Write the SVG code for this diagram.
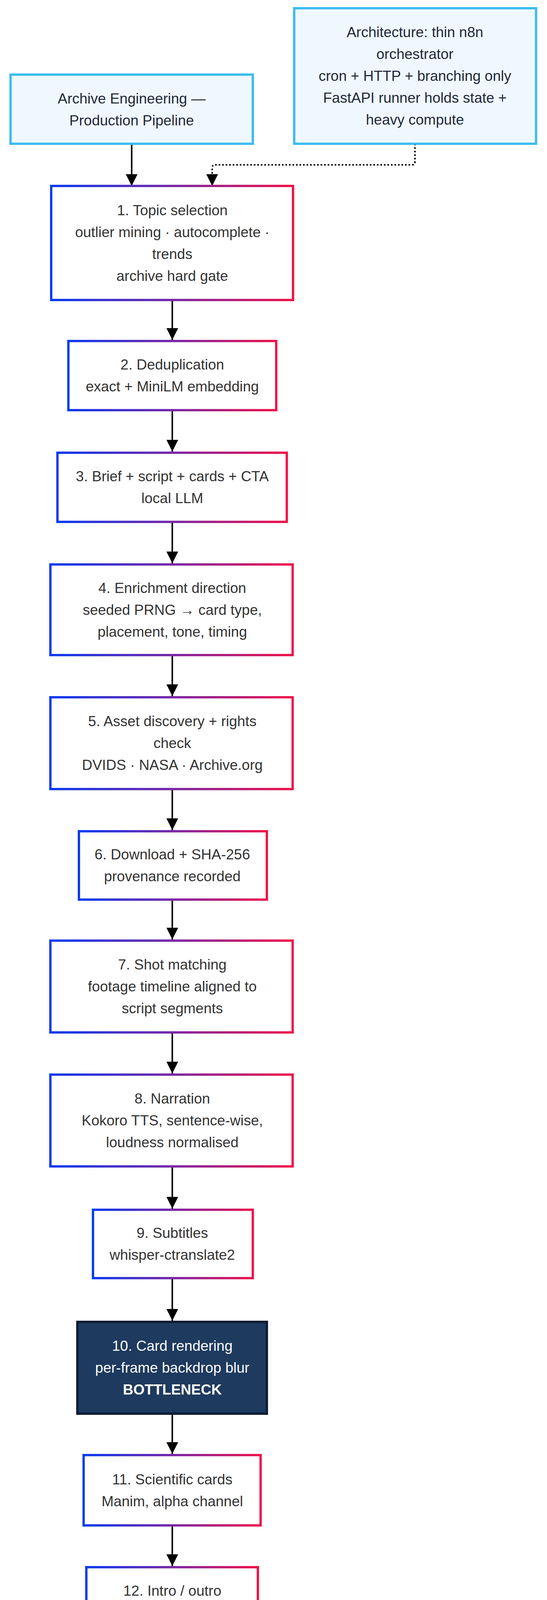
<svg xmlns="http://www.w3.org/2000/svg" width="1400" height="4725" viewBox="0 0 1400 4725">
<defs>
<linearGradient id="g" x1="0" y1="0" x2="1" y2="0"><stop offset="0" stop-color="#0a3cf0"/><stop offset="0.5" stop-color="#7a2aa8"/><stop offset="1" stop-color="#f0144b"/></linearGradient>
<marker id="a" markerUnits="userSpaceOnUse" markerWidth="30" markerHeight="30" viewBox="0 0 30 30" refX="30" refY="15" orient="auto"><path d="M0,0 L30,15 L0,30 z" fill="#000"/></marker>
<style>
text{font-family:"Liberation Sans",Arial,sans-serif;font-size:37px;fill:#333;text-anchor:middle}
.s rect{fill:#fff;stroke:url(#g);stroke-width:6}
.h rect{fill:#f0f8ff;stroke:#3bbdf0;stroke-width:6}
.h text{fill:#1e293b}
.c line,.c path{stroke:#000;stroke-width:4;fill:none}
</style>
</defs>
<rect width="1400" height="4725" fill="#fff"/>
<g class="c">
<line x1="337" y1="368" x2="337" y2="476" marker-end="url(#a)"/>
<path d="M1062,368 V414 Q1062,422 1054,422 H551 Q543,422 543,430 V476" stroke-dasharray="4,5" marker-end="url(#a)"/>
<line x1="441" y1="768" x2="441" y2="870" marker-end="url(#a)"/>
<line x1="441" y1="1050" x2="441" y2="1156" marker-end="url(#a)"/>
<line x1="441" y1="1336" x2="441" y2="1442" marker-end="url(#a)"/>
<line x1="441" y1="1677" x2="441" y2="1782" marker-end="url(#a)"/>
<line x1="441" y1="2020" x2="441" y2="2125" marker-end="url(#a)"/>
<line x1="441" y1="2303" x2="441" y2="2405" marker-end="url(#a)"/>
<line x1="441" y1="2643" x2="441" y2="2748" marker-end="url(#a)"/>
<line x1="441" y1="2986" x2="441" y2="3094" marker-end="url(#a)"/>
<line x1="441" y1="3272" x2="441" y2="3381" marker-end="url(#a)"/>
<line x1="441" y1="3619" x2="441" y2="3722" marker-end="url(#a)"/>
<line x1="441" y1="3905" x2="441" y2="4009" marker-end="url(#a)"/>
<line x1="441" y1="4189" x2="441" y2="4293" marker-end="url(#a)"/>
<line x1="441" y1="4475" x2="441" y2="4580" marker-end="url(#a)"/>
</g>
<g id="title" class="h"><rect x="27" y="191" width="620" height="177"/><text x="337" y="265">Archive Engineering —</text><text x="337" y="321">Production Pipeline</text></g>
<g id="arch" class="h"><rect x="753" y="21" width="619" height="347"/><text x="1062" y="95">Architecture: thin n8n</text><text x="1062" y="151">orchestrator</text><text x="1062" y="207">cron + HTTP + branching only</text><text x="1062" y="263">FastAPI runner holds state +</text><text x="1062" y="319">heavy compute</text></g>
<g id="n1" class="s"><rect x="131" y="476" width="619" height="292"/><text x="441" y="551">1. Topic selection</text><text x="441" y="607">outlier mining · autocomplete ·</text><text x="441" y="663">trends</text><text x="441" y="719">archive hard gate</text></g>
<g id="n2" class="s"><rect x="175" y="873" width="532" height="177"/><text x="441" y="946">2. Deduplication</text><text x="441" y="1002">exact + MiniLM embedding</text></g>
<g id="n3" class="s"><rect x="147" y="1159" width="587" height="177"/><text x="441" y="1232">3. Brief + script + cards + CTA</text><text x="441" y="1288">local LLM</text></g>
<g id="n4" class="s"><rect x="129" y="1445" width="620" height="232"/><text x="441" y="1518">4. Enrichment direction</text><text x="441" y="1574">seeded PRNG → card type,</text><text x="441" y="1630">placement, tone, timing</text></g>
<g id="n5" class="s"><rect x="129" y="1785" width="620" height="235"/><text x="441" y="1859">5. Asset discovery + rights</text><text x="441" y="1915">check</text><text x="441" y="1971">DVIDS · NASA · Archive.org</text></g>
<g id="n6" class="s"><rect x="202" y="2128" width="481" height="175"/><text x="441" y="2200">6. Download + SHA-256</text><text x="441" y="2256">provenance recorded</text></g>
<g id="n7" class="s"><rect x="129" y="2408" width="620" height="235"/><text x="441" y="2482">7. Shot matching</text><text x="441" y="2538">footage timeline aligned to</text><text x="441" y="2594">script segments</text></g>
<g id="n8" class="s"><rect x="129" y="2751" width="620" height="235"/><text x="441" y="2825">8. Narration</text><text x="441" y="2881">Kokoro TTS, sentence-wise,</text><text x="441" y="2937">loudness normalised</text></g>
<g id="n9" class="s"><rect x="238" y="3097" width="409" height="175"/><text x="441" y="3169">9. Subtitles</text><text x="441" y="3225">whisper-ctranslate2</text></g>
<g id="n10"><rect x="198" y="3384" width="485" height="235" fill="#1e3a5f" stroke="#0f1d33" stroke-width="6"/><text x="441" y="3458" style="fill:#fff">10. Card rendering</text><text x="441" y="3514" style="fill:#fff">per-frame backdrop blur</text><text x="441" y="3570" style="fill:#fff;font-weight:bold">BOTTLENECK</text></g>
<g id="n11" class="s"><rect x="214" y="3725" width="453" height="180"/><text x="441" y="3800">11. Scientific cards</text><text x="441" y="3856">Manim, alpha channel</text></g>
<g id="n12" class="s"><rect x="221" y="4012" width="439" height="177"/><text x="441" y="4085">12. Intro / outro</text><text x="441" y="4141">Ken Burns + duotone</text></g>
<g id="n13" class="s"><rect x="195" y="4296" width="491" height="179"/><text x="441" y="4370">13. Assembly</text><text x="441" y="4426">FFmpeg + VideoToolbox</text></g>
<g id="final"><rect x="237" y="4583" width="408" height="120" fill="#f0fcf4" stroke="#4ade80" stroke-width="6"/><text x="441" y="4656" style="fill:#1e293b">Final render, 1440p</text></g>
</svg>
